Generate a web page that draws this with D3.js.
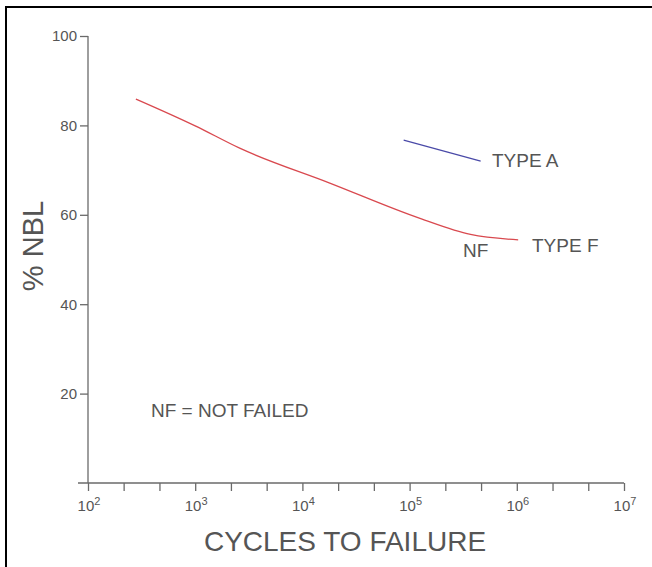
<!DOCTYPE html>
<html>
<head>
<meta charset="utf-8">
<script src="https://cdn.jsdelivr.net/npm/d3@7"></script>
<style>
  html, body { margin: 0; padding: 0; background: #fff; }
  svg { display: block; font-family: "Liberation Sans", Arial, sans-serif; }
</style>
</head>
<body>
<svg id="chart" width="652" height="567"></svg>
<script>
// ---- data ----
const xMajorExponents = [2, 3, 4, 5, 6, 7];
const xMinorTicks = [215, 464, 2154, 4642, 21544, 46416, 215443, 464159, 2154435, 4641589];
const yTicks = [20, 40, 60, 80, 100];

const typeFCycles = [280, 1000, 2600, 18000, 125000, 370000, 1030000];
const typeFNBL    = [85.9, 79.9, 74.9, 67.1, 59.2, 55.6, 54.4];

const typeACycles = [88000, 460000];
const typeANBL    = [76.7, 72.0];

const xTitle = "CYCLES TO FAILURE";
const yTitle = "% NBL";

// ---- drawing ----
const svg = d3.select("#chart");
const textColor = "#555";
const axisColor = "#6a6a6a";

// frame (top and left edges visible)
svg.append("line").attr("x1", 5).attr("x2", 652).attr("y1", 7).attr("y2", 7)
  .attr("stroke", "#000").attr("stroke-width", 2);
svg.append("line").attr("x1", 6).attr("x2", 6).attr("y1", 6).attr("y2", 567)
  .attr("stroke", "#000").attr("stroke-width", 2);

const x = d3.scaleLog().domain([1e2, 1e7]).range([88, 624]);
const y = d3.scaleLinear().domain([0, 100]).range([483, 36]);

// x axis
const majorVals = xMajorExponents.map(e => Math.pow(10, e));
const xAxis = d3.axisBottom(x)
  .tickValues(majorVals.concat(xMinorTicks))
  .tickSize(8).tickFormat("");
const gx = svg.append("g").attr("transform", `translate(0,${y(0)})`).call(xAxis);
gx.select(".domain").remove();
gx.selectAll(".tick line").attr("stroke", axisColor).attr("stroke-width", 1.3);
svg.append("line").attr("x1", 78).attr("x2", x(1e7)).attr("y1", y(0)).attr("y2", y(0))
  .attr("stroke", axisColor).attr("stroke-width", 1.3);

// x tick labels 10^n
xMajorExponents.forEach(e => {
  const t = svg.append("text")
    .attr("x", x(Math.pow(10, e)) + 1)
    .attr("y", 511)
    .attr("text-anchor", "middle")
    .attr("fill", textColor)
    .attr("font-size", 15);
  t.append("tspan").text("10");
  t.append("tspan").attr("font-size", 11).attr("dy", -6).text(e);
});

// y axis
const yAxis = d3.axisLeft(y).tickValues(yTicks).tickSize(8).tickPadding(3);
const gy = svg.append("g").attr("transform", `translate(${x(1e2)},0)`).call(yAxis);
gy.select(".domain").remove();
gy.selectAll(".tick line").attr("stroke", axisColor).attr("stroke-width", 1.3);
gy.selectAll(".tick text").attr("fill", textColor).attr("font-size", 15)
  .attr("font-family", "Liberation Sans, Arial, sans-serif");
svg.append("line").attr("x1", x(1e2)).attr("x2", x(1e2)).attr("y1", y(100)).attr("y2", y(0))
  .attr("stroke", axisColor).attr("stroke-width", 1.3);

// axis titles
svg.append("text").attr("x", 345).attr("y", 551).attr("text-anchor", "middle")
  .attr("fill", textColor).attr("font-size", 28).text(xTitle);
svg.append("text").attr("transform", "translate(43,246) rotate(-90)")
  .attr("text-anchor", "middle").attr("fill", textColor).attr("font-size", 29).text(yTitle);

// lines
const line = d3.line().x(d => x(d[0])).y(d => y(d[1])).curve(d3.curveMonotoneX);
svg.append("path")
  .datum(typeFCycles.map((c, i) => [c, typeFNBL[i]]))
  .attr("d", line).attr("fill", "none").attr("stroke", "#d9494f").attr("stroke-width", 1.3);
svg.append("path")
  .datum(typeACycles.map((c, i) => [c, typeANBL[i]]))
  .attr("d", line).attr("fill", "none").attr("stroke", "#4a4aa8").attr("stroke-width", 1.3);

// annotations
const ann = [
  { t: "TYPE A", x: 492, y: 167 },
  { t: "TYPE F", x: 532, y: 252 },
  { t: "NF", x: 463, y: 257 },
  { t: "NF = NOT FAILED", x: 151, y: 417 }
];
svg.selectAll("text.ann").data(ann).enter().append("text")
  .attr("class", "ann")
  .attr("x", d => d.x).attr("y", d => d.y)
  .attr("fill", textColor).attr("font-size", 19)
  .text(d => d.t);
</script>
</body>
</html>
